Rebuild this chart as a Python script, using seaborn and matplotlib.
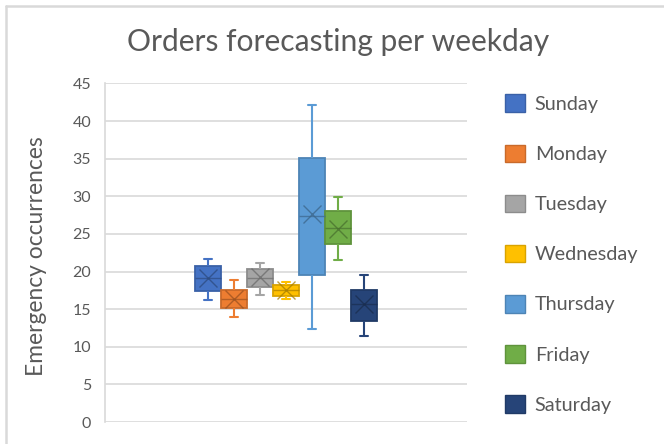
import matplotlib
matplotlib.use("Agg")
import matplotlib.pyplot as plt
from matplotlib.lines import Line2D
from matplotlib.patches import Patch
import matplotlib.colors as mcolors
import numpy as np
import pandas as pd
import seaborn as sns

# Five-number summaries per weekday
days = ["Sunday", "Monday", "Tuesday", "Wednesday", "Thursday", "Friday", "Saturday"]
mins = [16.2, 13.9, 16.9, 16.4, 12.3, 21.6, 11.4]
q1s = [17.4, 15.1, 18.0, 16.8, 19.5, 23.6, 13.4]
medians = [19.1, 16.4, 19.2, 17.5, 27.4, 25.8, 15.7]
q3s = [20.7, 17.6, 20.3, 18.2, 35.1, 28.0, 17.6]
maxs = [21.7, 18.9, 21.1, 18.6, 42.2, 29.9, 19.5]
means = [19.1, 16.4, 19.3, 17.6, 27.6, 25.7, 15.7]

colors = ["#4472C4", "#ED7D31", "#A5A5A5", "#FFC000", "#5B9BD5", "#70AD47", "#264478"]

title = "Orders forecasting per weekday"
ylabel = "Emergency occurrences"
yticks = [0, 5, 10, 15, 20, 25, 30, 35, 40, 45]

rows = []
for d, a, b, c, e, f in zip(days, mins, q1s, medians, q3s, maxs):
    for v in (a, b, c, e, f):
        rows.append({"group": "", "day": d, "value": v})
df = pd.DataFrame(rows)

sns.set_theme(style="white")
plt.rcParams["font.family"] = ["Lato", "DejaVu Sans"]

text_grey = "#595959"
grid_grey = "#D9D9D9"


def darker(c, k=0.8):
    r, g, b = mcolors.to_rgb(c)
    return (r * k, g * k, b * k)


fig = plt.figure(figsize=(6.64, 4.44), dpi=100)
W, H = 664, 444
ax = fig.add_axes([105 / W, 1 - 422 / H, (467 - 105) / W, (422 - 83.5) / H])

sns.boxplot(data=df, x="group", y="value", hue="day", hue_order=days,
            palette=colors, width=0.503, gap=0, whis=(0, 100),
            linewidth=1.2, legend=False, saturation=1, ax=ax)

box_w = 0.503 / len(days)
cap_half = 4.2 / 362
for i, cont in enumerate(ax.containers):
    col = colors[i]
    edge = darker(col, 0.85)
    for b in cont.boxes:
        b.set_facecolor(col)
        b.set_edgecolor(edge)
        b.set_linewidth(1.3)
    for w in cont.whiskers:
        w.set_color(col)
        w.set_linewidth(1.5)
    for c in cont.caps:
        c.set_color(col)
        c.set_linewidth(1.5)
        xs = c.get_xdata()
        xc = (xs[0] + xs[1]) / 2
        c.set_xdata([xc - cap_half, xc + cap_half])
    for m in cont.medians:
        m.set_color(darker(col, 0.7))
        m.set_linewidth(1.0)
        m.set_alpha(0.8)

# mean markers
centers = [-0.503 / 2 + box_w * (i + 0.5) for i in range(len(days))]
for i, (xc, mv) in enumerate(zip(centers, means)):
    ax.plot([xc], [mv], marker="x", markersize=13, markeredgewidth=1.0,
            color=darker(colors[i], 0.65), alpha=0.75, zorder=5)

ax.set_xlim(-0.5, 0.5)
ax.set_ylim(0, 45)
ax.set_yticks(yticks)
ax.set_yticklabels([str(t) for t in yticks])
ax.yaxis.grid(True, color=grid_grey, linewidth=1.2)
ax.set_axisbelow(True)
ax.set_xticks([])
ax.set_xlabel("")
ax.tick_params(axis="y", length=0, pad=10, labelsize=11.5, labelcolor=text_grey)
for s in ["top", "right", "bottom"]:
    ax.spines[s].set_visible(False)
ax.spines["left"].set_color(grid_grey)
ax.spines["left"].set_linewidth(1.2)
ax.set_ylabel(ylabel, fontsize=16.4, color=text_grey)
ax.yaxis.set_label_coords(-58 / 362, 0.49, transform=ax.transAxes)

fig.text(338 / W, 1 - 42 / H, title, ha="center", va="center",
         fontsize=21.6, color=text_grey)

handles = [Patch(facecolor=c, edgecolor=darker(c, 0.85), linewidth=1.0) for c in colors]
fig.legend(handles, days, loc="upper left", bbox_to_anchor=(505 / W, 1 - 94.5 / H),
           frameon=False, fontsize=14.3, labelcolor=text_grey,
           handlelength=1.0, handleheight=1.0, handletextpad=0.5,
           labelspacing=1.58, borderpad=0, borderaxespad=0)

# outer chart border (left and top edges)
fig.add_artist(Line2D([5.5 / W, 5.5 / W], [0, 1 - 6.5 / H], color="#D9D9D9",
                      linewidth=1.8, transform=fig.transFigure))
fig.add_artist(Line2D([5.5 / W, 1], [1 - 6.5 / H, 1 - 6.5 / H], color="#D9D9D9",
                      linewidth=1.8, transform=fig.transFigure))

fig.savefig("out.png", dpi=100)
